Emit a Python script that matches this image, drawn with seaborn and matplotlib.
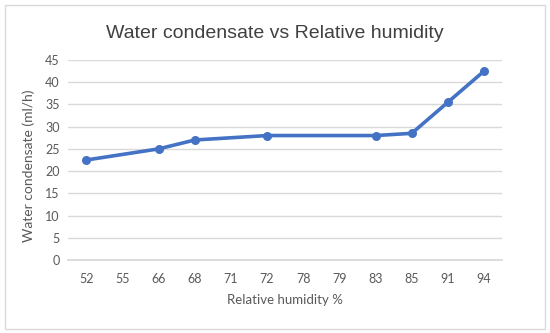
import matplotlib
matplotlib.use("Agg")
import matplotlib.pyplot as plt
import numpy as np
import pandas as pd
import seaborn as sns
from matplotlib.patches import Rectangle

humidity_labels = ["52", "55", "66", "68", "71", "72", "78", "79", "83", "85", "91", "94"]
condensate = [22.5, None, 25, 27, None, 28, None, None, 28, 28.5, 35.5, 42.5]

sns.set_theme(style="white")
plt.rcParams["font.family"] = ["Lato", "DejaVu Sans"]

frame = pd.DataFrame({
    "pos": np.arange(len(humidity_labels)),
    "label": humidity_labels,
    "value": pd.to_numeric(pd.Series(condensate), errors="coerce"),
}).dropna()

fig = plt.figure(figsize=(5.5, 3.33), dpi=100)
ax = fig.add_axes([0.124, 0.219, 0.789, 0.601])

line_color = "#4472C4"
sns.lineplot(data=frame, x="pos", y="value", ax=ax, color=line_color,
             linewidth=2.6, marker="o", markersize=6.5, markeredgewidth=0,
             zorder=3)

ax.set_xlim(-0.5, len(humidity_labels) - 0.5)
ax.set_ylim(0, 45)
ax.set_yticks(range(0, 46, 5))
ax.set_xticks(range(len(humidity_labels)))
ax.set_xticklabels(humidity_labels)
ax.yaxis.grid(True, color="#d9d9d9", linewidth=1)
ax.xaxis.grid(False)
for side in ["top", "right", "left"]:
    ax.spines[side].set_visible(False)
ax.spines["bottom"].set_color("#d9d9d9")
ax.tick_params(axis="both", length=0, labelsize=9, labelcolor="#595959")
ax.tick_params(axis="x", pad=9)
ax.tick_params(axis="y", pad=6)

ax.set_xlabel("Relative humidity %", fontsize=9.5, color="#595959", labelpad=7)
ax.set_ylabel("Water condensate (ml/h)", fontsize=10, color="#595959")
ax.yaxis.set_label_coords(-0.077, 0.47)

fig.text(0.5, 0.9, "Water condensate vs Relative humidity", ha="center",
         va="center", fontsize=14, color="#404040", family="Liberation Sans")

fig.patches.append(Rectangle((0.009, 0.012), 0.982, 0.973, transform=fig.transFigure,
                             fill=False, edgecolor="#d9d9d9", linewidth=1))

fig.savefig("out.png", dpi=100, facecolor="white")
